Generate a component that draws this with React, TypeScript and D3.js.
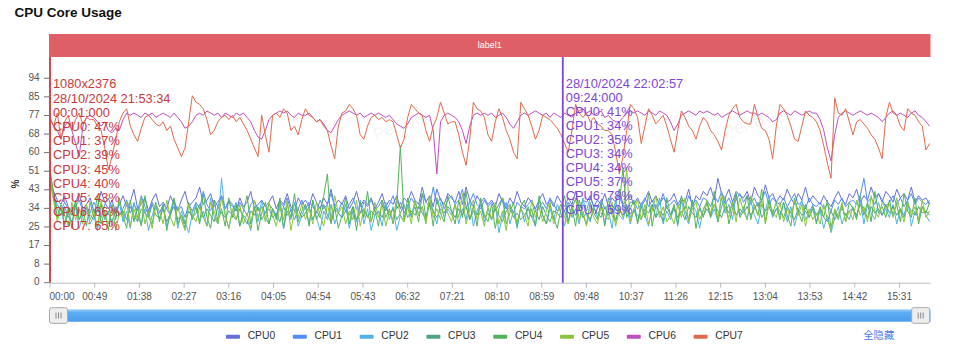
import React from "react";
import * as d3 from "d3";

const SERIES_NAMES = ["CPU0", "CPU1", "CPU2", "CPU3", "CPU4", "CPU5", "CPU6", "CPU7"];
const SERIES_COLORS = ["#6470d6", "#4f8ff7", "#52b2e6", "#4fa38c", "#54b35a", "#8cc43c", "#bf4fbf", "#df6a4c"];
const SAMPLE_STEP_SECONDS = 4;
const TOTAL_SECONDS = 965;
const Y_MAX = 94;
const Y_TICK_LABELS = ["0", "8", "17", "25", "34", "43", "51", "60", "68", "77", "85", "94"];
const X_TICK_INTERVAL = 49;
const BAND_LABEL = "label1";
const TITLE = "CPU Core Usage";
const HIDE_ALL = "全隐藏";

const cpu0 = [
  48,42,38,36,40,35,33,37,41,34,
  36,39,33,35,42,37,34,38,32,36,
  40,35,37,43,34,36,39,33,38,41,
  35,37,34,40,36,33,38,42,35,37,
  39,44,36,38,41,35,37,40,34,38,
  36,33,39,35,37,42,34,36,38,35,
  37,40,34,38,36,41,35,33,39,36,
  38,35,41,37,34,39,36,43,35,38,
  36,40,34,37,42,35,38,36,39,34,
  37,41,35,38,36,40,34,39,37,42,
  38,36,44,37,40,35,43,38,36,41,
  39,37,42,36,44,38,35,40,37,39,
  36,38,35,41,37,34,39,36,42,37,
  35,39,37,34,38,41,36,38,35,40,
  37,35,39,36,42,34,38,37,40,35,
  38,36,41,35,39,37,43,36,38,40,
  36,39,35,38,42,37,40,36,39,37,
  38,41,36,39,37,43,35,40,38,42,
  40,44,38,48,41,39,43,37,42,40,
  39,42,37,44,40,38,45,39,41,37,
  40,38,43,39,36,41,38,44,37,40,
  38,36,40,37,35,39,42,38,36,41,
  39,43,37,40,38,44,39,41,37,42,
  40,37,43,39,41,38,44,37,40,38,
  39,36,
];
const cpu1 = [
  45,40,36,33,37,34,31,35,38,33,
  35,32,37,34,30,36,39,33,35,31,
  34,38,32,36,33,40,35,31,37,34,
  32,36,34,31,38,33,35,30,36,33,
  37,34,42,36,33,38,35,40,34,37,
  35,33,37,34,31,36,38,33,35,32,
  36,34,31,37,35,39,33,36,34,38,
  34,37,35,32,38,34,36,41,35,33,
  37,33,36,39,34,32,37,35,38,34,
  35,38,33,36,40,34,37,32,35,39,
  36,34,41,37,35,44,36,39,34,38,
  40,36,38,43,35,37,41,36,34,38,
  35,37,33,36,39,34,36,32,37,35,
  34,36,38,33,35,37,34,39,36,33,
  36,33,37,35,38,34,36,33,39,35,
  35,38,34,36,33,37,40,35,34,37,
  37,34,36,39,35,38,34,36,41,35,
  36,38,35,37,34,40,36,38,35,39,
  38,35,40,37,42,36,39,35,38,41,
  37,40,36,39,35,38,42,36,39,37,
  36,39,35,38,41,36,37,34,39,36,
  35,37,34,36,33,38,36,39,35,37,
  38,36,40,48,37,39,36,41,38,35,
  37,40,36,39,35,38,41,36,39,37,
  36,38,
];
const cpu2 = [
  47,38,30,34,26,32,28,35,25,31,
  34,27,31,24,36,29,33,26,30,37,
  28,33,25,37,30,27,34,24,31,36,
  29,35,26,31,38,25,33,28,23,32,
  36,28,33,26,39,30,27,48,31,25,
  33,37,26,31,29,24,35,28,38,30,
  27,34,30,36,25,33,29,37,26,31,
  35,27,38,30,24,33,29,36,27,32,
  30,36,25,33,28,38,27,34,24,31,
  33,26,37,29,35,24,31,28,36,30,
  38,31,35,28,40,33,27,37,30,34,
  31,36,27,34,29,38,26,33,37,28,
  34,29,36,23,31,37,27,33,25,35,
  28,35,30,26,38,31,27,34,29,36,
  32,26,37,30,34,27,39,31,28,35,
  30,36,27,33,25,38,31,29,35,27,
  34,28,37,31,26,36,30,39,27,33,
  29,35,26,38,31,27,36,33,25,34,
  37,30,34,28,39,32,36,29,41,31,
  35,29,38,31,27,36,33,40,30,34,
  31,37,28,35,26,33,38,29,32,36,
  28,33,25,31,23,30,35,27,32,29,
  35,30,38,27,36,32,29,37,31,34,
  30,36,27,34,31,38,26,33,29,35,
  31,28,
];
const cpu3 = [
  50,40,34,31,35,30,33,36,29,32,
  34,31,29,33,36,30,32,28,34,31,
  33,29,35,31,28,34,32,30,36,31,
  30,34,28,32,35,29,31,27,33,30,
  32,36,30,34,31,28,35,32,30,33,
  31,29,34,30,27,33,31,35,29,32,
  34,30,32,28,35,31,33,29,34,30,
  32,35,29,33,30,36,31,28,34,32,
  30,33,31,35,29,32,34,30,33,31,
  33,30,35,31,34,29,32,36,30,33,
  31,35,32,29,36,33,30,34,32,35,
  33,30,34,31,35,29,33,31,36,30,
  32,29,34,31,28,33,35,30,32,29,
  31,34,30,33,29,35,31,28,33,32,
  30,33,28,35,31,34,30,32,29,34,
  32,30,35,31,33,29,34,31,36,30,
  33,31,29,34,32,36,30,33,31,35,
  31,34,30,33,29,35,32,30,34,31,
  34,31,36,33,30,35,32,37,31,34,
  32,35,31,34,37,30,33,35,31,34,
  33,30,35,32,29,34,31,33,30,35,
  31,34,30,28,33,29,32,34,31,33,
  34,31,36,33,30,35,32,34,31,36,
  32,35,31,34,30,36,33,31,35,32,
  33,31,
];
const cpu4 = [
  52,41,30,36,27,34,25,38,29,33,
  26,37,30,40,27,33,24,36,29,39,
  31,25,38,28,35,26,40,30,27,37,
  28,36,24,33,39,27,31,25,37,29,
  35,27,41,30,25,38,28,34,26,39,
  30,36,26,33,40,27,35,24,32,37,
  27,34,29,39,25,36,30,41,28,33,
  36,26,38,29,33,40,50,27,35,25,
  31,39,27,35,24,37,30,42,28,34,
  26,38,30,34,27,36,63,29,39,31,
  35,28,41,30,37,26,39,32,28,40,
  33,27,38,30,42,29,35,26,39,31,
  28,36,25,34,39,27,32,37,26,35,
  38,29,34,26,40,31,27,36,30,25,
  34,40,28,35,26,38,31,27,37,32,
  29,37,26,39,31,28,36,53,30,34,
  38,27,35,30,41,26,36,32,28,39,
  31,36,27,40,33,29,38,25,35,30,
  37,30,42,28,35,39,27,34,41,30,
  33,40,29,36,31,43,28,38,32,37,
  29,37,31,26,39,33,28,36,30,34,
  27,35,30,38,25,33,29,36,28,37,
  34,29,40,31,37,28,42,32,35,30,
  38,31,36,28,41,33,30,39,27,35,
  32,37,
];
const cpu5 = [
  49,38,28,35,31,26,37,29,34,27,
  36,29,33,25,38,30,27,35,24,32,
  30,37,26,34,29,39,27,33,25,36,
  33,27,38,30,26,35,29,24,36,31,
  28,35,30,26,37,33,27,39,31,25,
  34,29,36,27,32,25,38,30,35,28,
  37,31,26,35,29,38,24,33,30,36,
  29,34,27,37,31,26,36,29,40,32,
  35,27,33,29,38,26,34,31,28,37,
  30,36,26,33,29,39,31,28,35,27,
  38,31,35,27,40,30,34,29,37,32,
  28,36,30,41,27,34,38,29,33,26,
  35,29,37,27,33,24,36,30,28,34,
  31,26,38,30,35,28,33,37,27,32,
  36,30,27,34,39,29,33,26,36,30,
  27,35,31,29,37,26,34,30,53,28,
  34,38,29,36,27,33,40,30,35,28,
  31,27,36,30,39,28,34,37,29,33,
  38,32,36,29,41,34,30,37,28,39,
  33,29,40,35,31,38,27,36,33,30,
  37,28,34,30,38,31,36,26,34,29,
  32,27,36,29,24,34,30,37,28,33,
  29,38,31,35,28,40,33,30,37,34,
  36,30,39,33,28,37,31,35,29,38,
  30,33,
];
const cpu6 = [
  75,72,70,66,72,74,70,64,58,72,
  76,77,76,74,72,74,70,69,71,70,
  75,78,77,78,77,76,78,77,78,76,
  77,78,77,76,78,76,74,71,72,74,
  77,78,77,79,78,77,78,76,78,77,
  76,78,77,78,76,74,70,67,66,70,
  75,77,78,79,78,79,77,76,78,77,
  77,78,76,74,75,73,70,69,72,75,
  77,78,79,78,77,78,76,77,78,77,
  78,77,76,77,75,73,72,71,73,76,
  77,78,77,76,77,70,50,74,77,78,
  77,76,74,70,64,72,77,78,77,78,
  77,78,76,77,78,76,73,71,74,77,
  78,77,78,79,78,77,78,76,78,77,
  76,78,77,76,78,79,80,78,79,77,
  78,79,76,77,75,74,74,76,78,79,
  78,79,78,77,79,78,77,79,78,77,
  74,70,73,77,78,79,78,77,79,78,
  79,78,77,78,76,77,78,79,78,77,
  78,79,78,78,77,78,77,76,74,75,
  78,79,78,77,79,78,77,78,79,78,
  78,75,70,62,56,68,76,78,79,78,
  77,78,79,78,77,78,77,76,74,76,
  78,79,77,78,77,76,78,79,77,76,
  74,72,
];
const cpu7 = [
  76,72,78,66,74,77,70,75,78,73,
  76,75,75,72,70,62,52,58,66,74,
  78,80,72,68,65,71,76,77,75,73,
  72,74,70,72,66,62,58,62,74,86,
  83,82,80,75,68,70,74,76,77,75,
  77,74,76,73,70,66,62,58,77,68,
  60,77,78,76,80,78,70,72,68,75,
  80,77,76,74,75,72,70,63,57,72,
  78,79,82,80,77,68,66,72,76,77,
  75,76,74,75,74,68,62,66,76,82,
  80,78,77,70,65,72,76,83,78,73,
  74,74,68,60,54,66,83,80,79,76,
  68,65,74,80,76,70,66,60,57,83,
  80,77,72,66,70,77,76,75,73,71,
  68,64,60,70,82,78,76,78,74,76,
  73,72,70,70,68,60,50,58,70,82,
  80,76,64,72,80,77,73,75,77,72,
  66,60,70,79,76,72,70,66,72,76,
  74,70,68,65,61,70,77,80,82,76,
  74,73,73,82,76,71,70,66,57,72,
  82,80,77,72,66,65,72,79,77,76,
  74,70,63,55,48,85,78,77,80,74,
  68,74,75,73,71,68,66,62,57,76,
  83,78,77,72,70,80,78,77,74,72,
  61,64,
];
const SERIES_VALUES = [cpu0, cpu1, cpu2, cpu3, cpu4, cpu5, cpu6, cpu7];

const MARKER_TIMES = [0, 562];
const MARKER_COLORS = ["#c9383a", "#7c46d8"];
const MARKER_LINES = [
  ["1080x2376", "28/10/2024 21:53:34", "00:01:000", "CPU0: 47%", "CPU1: 37%", "CPU2: 39%", "CPU3: 45%", "CPU4: 40%", "CPU5: 43%", "CPU6: 66%", "CPU7: 65%"],
  ["28/10/2024 22:02:57", "09:24:000", "CPU0: 41%", "CPU1: 34%", "CPU2: 35%", "CPU3: 34%", "CPU4: 34%", "CPU5: 37%", "CPU6: 78%", "CPU7: 69%"],
];
const MARKER_TEXT_TOP = [85, 84.3];
const MARKER_TEXT_STEP = [14.2, 14.05];

const FONT = "'Liberation Sans', Arial, Helvetica, sans-serif";
const fmtTime = (s: number) => `${String(Math.floor(s / 60)).padStart(2, "0")}:${String(s % 60).padStart(2, "0")}`;

export default function App() {
  const left = 50, right = 930.5, top = 78.3, bottom = 282.7;
  const x = d3.scaleLinear().domain([0, TOTAL_SECONDS]).range([left, right]);
  const y = d3.scaleLinear().domain([0, Y_MAX]).range([bottom, top]);
  const line = d3.line<number>().x((_, i) => x(i * SAMPLE_STEP_SECONDS)).y((d) => y(d));
  const xTicks = d3.range(0, TOTAL_SECONDS, X_TICK_INTERVAL);
  const yTicks = Y_TICK_LABELS.map((l, i) => ({ label: l, v: (i * Y_MAX) / (Y_TICK_LABELS.length - 1) }));
  const legendX0 = 226, legendStep = 66.8, legendY = 336.7;

  return (
    <svg width={960} height={356} style={{ position: "fixed", left: 0, top: 0, background: "#fff" }} fontFamily={FONT}>
      <defs>
        <linearGradient id="sliderFill" x1="0" y1="0" x2="0" y2="1">
          <stop offset="0" stopColor="#9fd0fa" />
          <stop offset="0.25" stopColor="#5eaef2" />
          <stop offset="1" stopColor="#4a9cec" />
        </linearGradient>
      </defs>
      <text x={14.5} y={16.7} fontSize={13.5} fontWeight="bold" fill="#111">{TITLE}</text>

      <rect x={49} y={34} width={right - 49} height={23} fill="#df5f67" />
      <text x={(49 + right) / 2} y={45.5} fontSize={9} fill="#fff" textAnchor="middle" dominantBaseline="middle">{BAND_LABEL}</text>

      {[[55, 136], [405, 130], [755, 128]].map(([wx, wy], i) => (
        <text key={i} x={wx} y={wy} fontSize={17} fill="#000" opacity={0.035} textAnchor="middle" transform={`rotate(-20 ${wx} ${wy})`}>PerfDog</text>
      ))}

      {/* y axis */}
      {yTicks.map((t) => (
        <g key={t.label}>
          <line x1={44} x2={49} y1={y(t.v)} y2={y(t.v)} stroke="#6e7079" strokeWidth={1} />
          <text x={39.5} y={y(t.v)} fontSize={10} fill="#555" textAnchor="end" dominantBaseline="middle">{t.label}</text>
        </g>
      ))}
      <text x={0} y={0} fontSize={10} fontWeight="bold" fill="#333" textAnchor="middle" transform="translate(18.5 184) rotate(-90)">%</text>

      {/* x axis */}
      <line x1={left} x2={right} y1={bottom + 0.5} y2={bottom + 0.5} stroke="#b8bcc6" strokeWidth={1} />
      {xTicks.map((t, i) => (
        <g key={t}>
          <line x1={x(t)} x2={x(t)} y1={bottom} y2={bottom + 5} stroke="#b8bcc6" strokeWidth={1} />
          <text x={i === 0 ? x(t) - 0.5 : x(t)} y={297} fontSize={10} fill="#555" textAnchor={i === 0 ? "start" : "middle"} dominantBaseline="middle">{fmtTime(t)}</text>
        </g>
      ))}

      {/* series */}
      {SERIES_VALUES.map((vals, i) => (
        <path key={SERIES_NAMES[i]} d={line(vals) || ""} fill="none" stroke={SERIES_COLORS[i]} strokeWidth={1} strokeLinejoin="round" />
      ))}

      {/* markers */}
      {MARKER_TIMES.map((t, m) => (
        <g key={m}>
          <line x1={x(t)} x2={x(t)} y1={57} y2={bottom} stroke={MARKER_COLORS[m]} strokeWidth={1.8} />
          {MARKER_LINES[m].map((txt, j) => (
            <text key={j} x={x(t) + 3} y={MARKER_TEXT_TOP[m] + j * MARKER_TEXT_STEP[m]} fontSize={12.8} fill={MARKER_COLORS[m]} dominantBaseline="middle">{txt}</text>
          ))}
        </g>
      ))}

      {/* slider */}
      <rect x={left - 1} y={309.3} width={right - left + 1} height={12.4} fill="url(#sliderFill)" />
      {[left - 0.5, 911.7].map((hx, i) => (
        <g key={i}>
          <rect x={hx} y={307.7} width={18} height={15.6} rx={2} fill="#eeeeee" stroke="#a9a9a9" strokeWidth={1} />
          {[-2.5, 0, 2.5].map((dx) => (
            <line key={dx} x1={hx + 9 + dx} x2={hx + 9 + dx} y1={312.5} y2={318.5} stroke="#888" strokeWidth={1} />
          ))}
        </g>
      ))}

      {/* legend */}
      {SERIES_NAMES.map((n, i) => (
        <g key={n}>
          <rect x={legendX0 + i * legendStep} y={legendY - 2} width={14} height={4} rx={1} fill={SERIES_COLORS[i]} />
          <text x={legendX0 + i * legendStep + 21.7} y={legendY} fontSize={10.3} fill="#333" dominantBaseline="middle">{n}</text>
        </g>
      ))}
      <text x={863.3} y={legendY} fontSize={10.3} fill="#4a7de8" dominantBaseline="middle" fontFamily="'Noto Sans CJK SC', sans-serif">{HIDE_ALL}</text>
    </svg>
  );
}
